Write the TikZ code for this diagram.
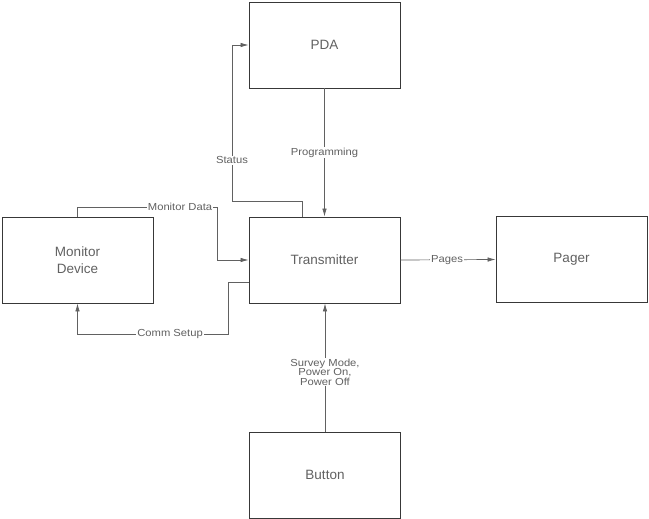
\documentclass[tikz,border=0pt]{standalone}
\usepackage{fontspec}
\setmainfont{Liberation Sans}
\newfontfamily\lblfont[FakeStretch=1.1]{Liberation Sans}
\usetikzlibrary{arrows.meta}
\definecolor{boxline}{gray}{0.22}
\definecolor{connline}{gray}{0.38}
\definecolor{txt}{gray}{0.38}
\tikzset{
  box/.style={draw=boxline, line width=0.9pt, minimum width=151pt, minimum height=86pt, inner sep=0pt,
    font=\fontsize{13.5}{17}\selectfont, text=txt, align=center},
  conn/.style={draw=connline, line width=0.7pt},
  arr/.style={conn, -{Latex[length=8pt,width=4.5pt]}},
  lbl/.style={fill=white, inner sep=1pt, text=txt, font=\lblfont\fontsize{10.2}{9.6}\selectfont, align=center}
}
\begin{document}
\begin{tikzpicture}[x=1pt,y=-1pt]
\useasboundingbox (0,0) rectangle (649,519);
\node[box] (pda) at (324.5,45) {PDA};
\node[box] (trans) at (324.5,260) {Transmitter};
\node[box] (pager) at (571.5,259.5) {Pager};
\node[box] (mon) at (77.5,260) {Monitor\\Device};
\node[box] (button) at (325,475) {Button};
% Monitor Data
\coordinate (md1) at (77.5,207);
\coordinate (md2) at (217,207);
\draw[arr] (mon.north) -- (md1) -- node[lbl, pos=0.735] {Monitor Data} (md2) |- (trans.west);
% Comm Setup
\coordinate (cs0) at (249,282);
\coordinate (cs1) at (228,282);
\coordinate (cs2) at (228,334);
\coordinate (cs3) at (77.5,334);
\draw[arr] (cs0) -- (cs1) -- (cs2) -- node[lbl, pos=0.385] {Comm Setup} (cs3) -- (mon.south);
% Status
\coordinate (st0) at (302,217);
\coordinate (st1) at (302,201);
\coordinate (st2) at (232,201);
\coordinate (st3) at (232,45);
\draw[arr] (st0) -- (st1) -- (st2) -- node[lbl, pos=0.26] {Status} (st3) -- (pda.west);
% Programming
\draw[arr] (pda.south) -- node[lbl, pos=0.5] {Programming} (trans.north);
% Pages
\draw[arr] (trans.east) -- node[lbl, pos=0.49] {Pages} (pager.west);
% Button
\draw[arr] (button.north) -- node[lbl, pos=0.465] {Survey Mode,\\Power On,\\Power Off} (button.north |- trans.south);
\end{tikzpicture}
\end{document}
